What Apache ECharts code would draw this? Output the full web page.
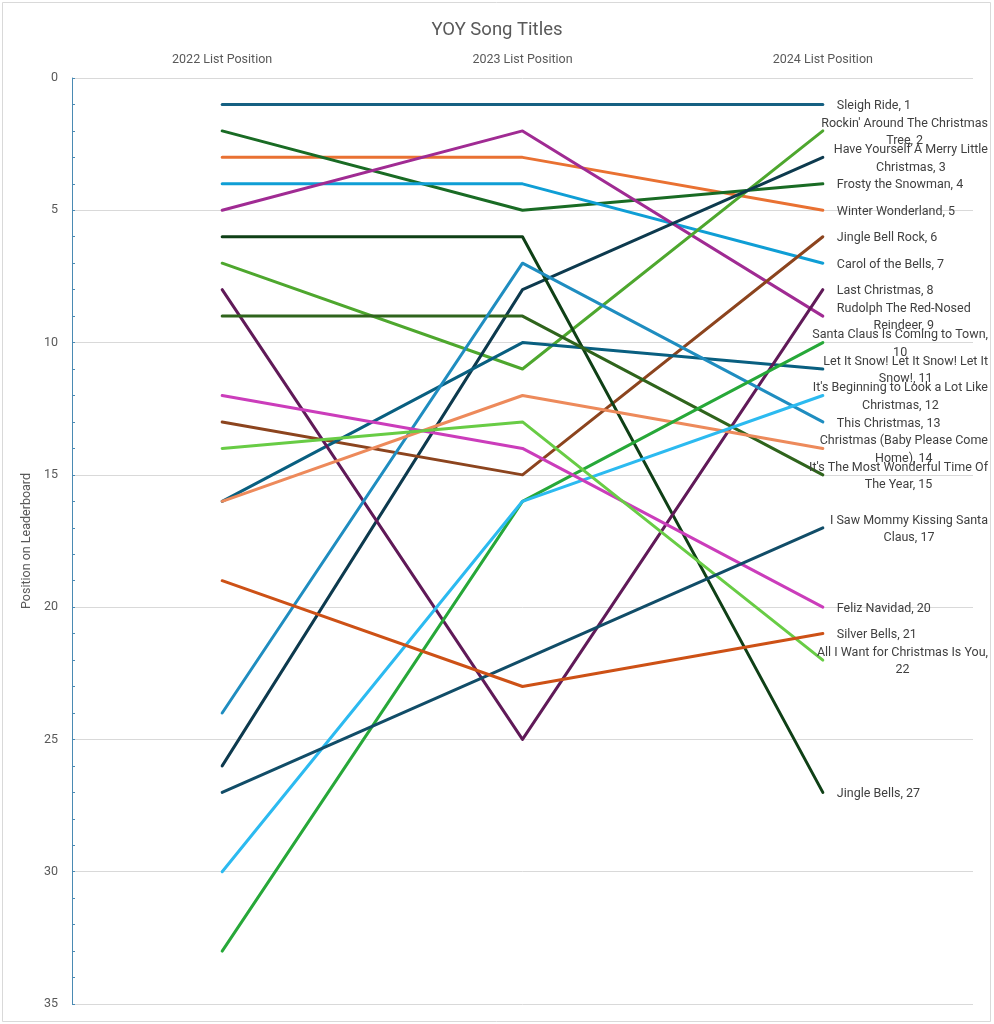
<!DOCTYPE html>
<html>
<head>
<meta charset="utf-8">
<title>YOY Song Titles</title>
<script src="https://cdn.jsdelivr.net/npm/echarts@6/dist/echarts.min.js"></script>
<style>
  html, body { margin: 0; padding: 0; background: #fff; }
  #chart { width: 994px; height: 1024px; }
</style>
</head>
<body>
<div id="chart"></div>
<script>
// x categories
const categories = ['2022 List Position', '2023 List Position', '2024 List Position'];

// one entry per song, same order in every array
const songs = [
  'Sleigh Ride', 'Winter Wonderland', 'Frosty the Snowman', 'Carol of the Bells',
  'Rudolph The Red-Nosed Reindeer', "Rockin' Around The Christmas Tree",
  'Have Yourself A Merry Little Christmas', 'Jingle Bell Rock', 'Jingle Bells',
  'Let It Snow! Let It Snow! Let It Snow!', 'Last Christmas', "It's The Most Wonderful Time Of The Year",
  'This Christmas', 'Christmas (Baby Please Come Home)', 'Santa Claus Is Coming to Town',
  "It's Beginning to Look a Lot Like Christmas", 'Feliz Navidad', 'All I Want for Christmas Is You',
  'I Saw Mommy Kissing Santa Claus', 'Silver Bells'
];
const pos2022 = [1, 3, 2, 4, 5, 7, 26, 13, 6, 16, 8, 9, 24, 16, 33, 30, 12, 14, 27, 19];
const pos2023 = [1, 3, 5, 4, 2, 11, 8, 15, 6, 10, 25, 9, 7, 12, 16, 16, 14, 13, 22, 23];
const pos2024 = [1, 5, 4, 7, 9, 2, 3, 6, 27, 11, 8, 15, 13, 14, 10, 12, 20, 22, 17, 21];

const colors = [
  '#156082', '#E97132', '#196B24', '#0F9ED5', '#A02B93', '#4EA72E',
  '#0D3A4E', '#8C441E', '#0F4016', '#095F80', '#601A58', '#2F641C',
  '#1F8DC0', '#ED8A5B', '#27A839', '#2CBAF0', '#CB3DBB', '#68CC45',
  '#114D68', '#CD5116'
];

const W = 994;
const gridLeft = 72, gridRight = 21;
const font = 'Roboto';
const labelSize = 12.5;
const lastX = gridLeft + (W - gridLeft - gridRight) * 5 / 6;
const labelGap = 14;
const labelMaxRight = 988;

// wrap the end labels the way the spreadsheet does
const ctx = document.createElement('canvas').getContext('2d');
ctx.font = labelSize + 'px ' + font;
function wrap(text, maxW) {
  const lines = [];
  let cur = '';
  text.split(' ').forEach(w => {
    const t = cur ? cur + ' ' + w : w;
    if (cur && ctx.measureText(t).width > maxW) {
      lines.push(cur);
      cur = w;
    } else {
      cur = t;
    }
  });
  lines.push(cur);
  return lines;
}

const series = songs.map((name, i) => {
  const lines = wrap(name + ', ' + pos2024[i], 182);
  const w = Math.max(...lines.map(l => ctx.measureText(l).width));
  const shift = Math.min(0, labelMaxRight - (lastX + labelGap) - w);
  return {
    name: name,
    type: 'line',
    data: [pos2022[i], pos2023[i], pos2024[i]],
    showSymbol: false,
    lineStyle: { width: 3, color: colors[i], cap: 'round', join: 'round' },
    itemStyle: { color: colors[i] },
    emphasis: { disabled: true },
    endLabel: {
      show: true,
      distance: labelGap,
      offset: [shift, 1.5],
      formatter: () => lines.map(l => '{t|' + l + '}').join('\n'),
      rich: {
        t: { align: 'center', fontSize: labelSize, fontFamily: font, color: '#404040', lineHeight: 17.5 }
      }
    }
  };
});

const chart = echarts.init(document.getElementById('chart'));
chart.setOption({
  animation: false,
  backgroundColor: '#fff',
  textStyle: { fontFamily: font },
  title: {
    text: 'YOY Song Titles',
    left: 'center',
    top: 16,
    textStyle: { fontSize: 18.5, fontWeight: 'normal', color: '#595959', fontFamily: font }
  },
  graphic: [{
    type: 'rect',
    shape: { x: 2.5, y: 2.5, width: 988, height: 1019 },
    style: { fill: 'none', stroke: '#d9d9d9', lineWidth: 1 },
    silent: true
  }],
  grid: { left: gridLeft, right: gridRight, top: 78, bottom: 20, containLabel: false },
  xAxis: {
    type: 'category',
    data: categories,
    position: 'top',
    boundaryGap: true,
    axisLine: { show: false },
    axisTick: { show: false },
    axisLabel: { color: '#595959', fontSize: 12.5, margin: 12 },
    splitLine: { show: false }
  },
  yAxis: {
    type: 'value',
    inverse: true,
    min: 0,
    max: 35,
    interval: 5,
    name: 'Position on Leaderboard',
    nameLocation: 'middle',
    nameGap: 27,
    nameTextStyle: { color: '#595959', fontSize: 12.5 },
    axisLine: { show: true, lineStyle: { color: '#4A8AB3', width: 1 } },
    axisTick: { show: true, inside: true, length: 3, lineStyle: { color: '#4A8AB3' } },
    minorTick: { show: true, splitNumber: 5, length: 3, lineStyle: { color: '#4A8AB3' } },
    axisLabel: { color: '#595959', fontSize: 12.5, margin: 14 },
    splitLine: { lineStyle: { color: '#d9d9d9' } }
  },
  series: series
});
</script>
</body>
</html>
